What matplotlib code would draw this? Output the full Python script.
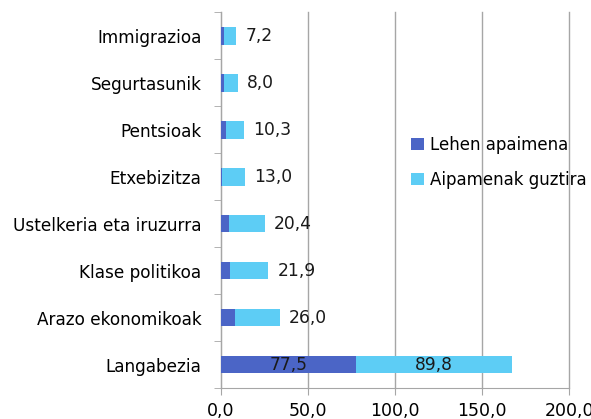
import matplotlib
matplotlib.use("Agg")
import matplotlib.pyplot as plt

# ── Data ─────────────────────────────────────────────────────────────────────
categories = ["Langabezia", "Arazo ekonomikoak", "Klase politikoa",
              "Ustelkeria eta iruzurra", "Etxebizitza", "Pentsioak",
              "Segurtasunik", "Immigrazioa"]
lehen = [77.5, 7.8, 5.3, 4.8, 0.8, 2.9, 1.9, 1.5]
guztira = [89.8, 26.0, 21.9, 20.4, 13.0, 10.3, 8.0, 7.2]
xticks = [0, 50, 100, 150, 200]

DARK = "#4B65C6"
LIGHT = "#5DCDF5"
GRID = "#A6A6A6"

plt.rcParams["font.family"] = ["DejaVu Sans"]

fig = plt.figure(figsize=(5.91, 4.19), dpi=100)
ax = fig.add_axes([0.374, 0.074, 0.589, 0.897])

y = list(range(len(categories)))
ax.barh(y, lehen, height=0.38, color=DARK, label="Lehen apaimena", zorder=3)
ax.barh(y, guztira, left=lehen, height=0.38, color=LIGHT,
        label="Aipamenak guztira", zorder=3)

# value labels
for i, (a, b) in enumerate(zip(lehen, guztira)):
    txt_b = f"{b:.1f}".replace(".", ",")
    if a > 30:
        ax.text(a / 2, i, f"{a:.1f}".replace(".", ","), ha="center",
                va="center", fontsize=12.3, color="#1a1a1a", zorder=4)
        ax.text(a + b / 2, i, txt_b, ha="center", va="center",
                fontsize=12.3, color="#1a1a1a", zorder=4)
    else:
        ax.annotate(txt_b, (a + b, i), xytext=(6.5, 0),
                    textcoords="offset points", ha="left", va="center",
                    fontsize=12.3, color="#1a1a1a", zorder=4)

ax.set_xlim(0, 200)
ax.set_ylim(-0.5, len(categories) - 0.5)
ax.set_xticks(xticks)
ax.set_xticklabels([f"{v:.1f}".replace(".", ",") for v in xticks], fontsize=12.5)
ax.set_yticks(y)
ax.set_yticklabels(categories, fontsize=12.2)
ax.set_yticks([v - 0.5 for v in range(len(categories) + 1)], minor=True)
ax.tick_params(axis="y", which="major", length=0, pad=14)
ax.tick_params(axis="y", which="minor", length=5, color=GRID)
ax.tick_params(axis="x", length=5, color=GRID, pad=5)

ax.xaxis.grid(True, color=GRID, lw=1, zorder=0)
for line in ax.get_xgridlines():
    line.set_clip_on(False)
for s in ["top", "right"]:
    ax.spines[s].set_visible(False)
for s in ["left", "bottom"]:
    ax.spines[s].set_color(GRID)

ax.legend(loc="upper left", bbox_to_anchor=(0.546, 0.67), frameon=False,
          fontsize=12, handlelength=0.75, handleheight=0.75,
          labelspacing=1.0, handletextpad=0.4, borderpad=0, borderaxespad=0)

fig.savefig("out.png", dpi=100)
